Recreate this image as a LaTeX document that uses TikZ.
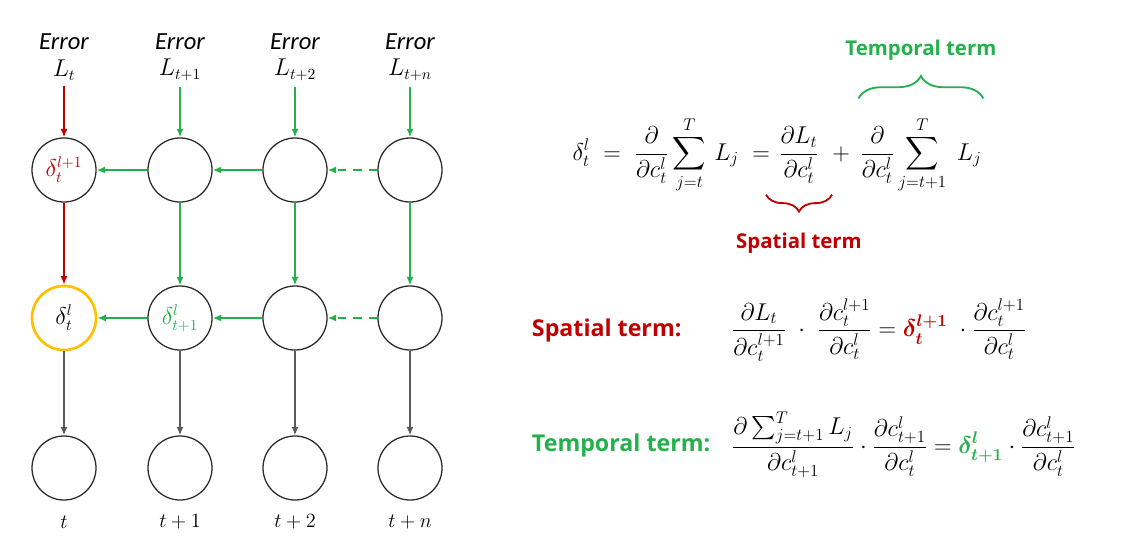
\documentclass[tikz,border=0pt]{standalone}
\usepackage{amsmath,amsfonts}
\usepackage{fontspec}
\usetikzlibrary{arrows.meta,positioning,decorations.pathreplacing}
\newfontfamily\errfont{Carlito Italic}
\newfontfamily\termfont{Open Sans Bold}
\definecolor{spat}{RGB}{192,0,0}
\definecolor{temp}{RGB}{34,177,76}
\definecolor{ring}{RGB}{255,192,0}
\definecolor{rim}{RGB}{40,40,40}
\definecolor{down}{RGB}{89,89,89}

\begin{document}
\begin{tikzpicture}[x=0.025cm,y=-0.025cm,
	cell/.style={circle,draw=rim,line width=0.9pt,minimum size=1.6cm,inner sep=0pt,font=\fontsize{16}{18}\selectfont},
	errlab/.style={align=center,inner sep=1pt,font=\fontsize{16}{19}\selectfont},
	timelab/.style={font=\fontsize{15}{17}\selectfont},
	flow/.style={line width=1.5pt,-{Latex[length=6pt,width=5pt]}},
	spatarrow/.style={flow,spat},
	temparrow/.style={flow,temp},
	downarrow/.style={flow,down},
	eqn/.style={inner sep=1pt,font=\fontsize{16.5}{19}\selectfont},
	bigterm/.style={font=\termfont\fontsize{16.5}{19}\selectfont},
	smallterm/.style={font=\termfont\fontsize{14.5}{17}\selectfont},
	curly/.style={line width=1.3pt,decorate,decoration={brace,amplitude=#1}}]
\useasboundingbox (0,0) rectangle (1128,552);
% grid of cells
\foreach \i/\x/\ut/\mt/\mc/\mw in {1/64/{\color{spat}$\delta_t^{l+1}$}/{$\delta_t^l$}/ring/1.9pt,2/180/{}/{\color{temp}$\delta_{t+1}^l$}/rim/0.9pt,3/295/{}/{}/rim/0.9pt,4/410/{}/{}/rim/0.9pt}
{
	\node[cell] (u\i) at (\x,170) {\ut};
	\node[cell,draw=\mc,line width=\mw] (m\i) at (\x,318) {\mt};
	\node[cell] (b\i) at (\x,468) {};
}
\foreach \i/\x/\s in {1/64/t,2/180/t+1,3/295/t+2,4/410/t+n}
{
	\node[errlab] (e\i) at (\x,57) {{\errfont\fontsize{17.5}{19}\selectfont Error}\\$L_{\s}$};
	\node[timelab] (t\i) at (\x,522) {$\s$};
	\draw[downarrow] (m\i) -- (b\i);
}
% error flows
\draw[spatarrow,shorten <=3pt] (e1) -- (u1);
\draw[spatarrow] (u1) -- (m1);
\foreach \i in {2,3,4}
{
	\draw[temparrow,shorten <=3pt] (e\i) -- (u\i);
	\draw[temparrow] (u\i) -- (m\i);
}
\foreach \i/\j in {2/1,3/2}
{
	\draw[temparrow] (u\i) -- (u\j);
	\draw[temparrow] (m\i) -- (m\j);
}
\draw[temparrow,dash pattern=on 6pt off 5pt] (u4) -- (u3);
\draw[temparrow,dash pattern=on 6pt off 5pt] (m4) -- (m3);
% main equation
\node[eqn] (spt) at (799,155) {$\displaystyle\frac{\partial L_t}{\partial c_t^l}$};
\node[eqn,base left=4pt of spt] (lhs) {$\displaystyle\delta_t^l \;=\; \frac{\partial}{\partial c_t^l}\sum_{j=t}^{T}\, L_j \;=$};
\node[eqn,base right=7pt of spt] (plus) {$+$};
\node[eqn,base right=5pt of plus] (tmp) {$\displaystyle\frac{\partial}{\partial c_t^l}\sum_{j=t+1}^{T}\; L_j$};
\draw[curly=16pt,temp] ([yshift=12pt]tmp.north west) -- node[smallterm,above=23pt,temp] (tlab) {Temporal term} ([yshift=12pt]tmp.north east);
\draw[curly=12pt,spat] ([xshift=8pt,yshift=-7pt]spt.south east) -- node[smallterm,below=23pt,spat] (slab) {Spatial term} ([xshift=-8pt,yshift=-7pt]spt.south west);
% spatial term
\node[bigterm,spat,anchor=west] (sname) at (527,330) {Spatial term:};
\node[eqn,anchor=west] (seq) at (730,330) {$\displaystyle\frac{\partial L_t}{\partial c_t^{l+1}}\;\cdot\;\frac{\partial c_t^{l+1}}{\partial c_t^l} = {\color{spat}\boldsymbol{\delta_t^{l+1}}}\;\cdot\frac{\partial c_t^{l+1}}{\partial c_t^l}$};
% temporal term
\node[bigterm,temp,anchor=west] (tname) at (527,445) {Temporal term:};
\node[eqn,anchor=west] (teq) at (730,445) {$\displaystyle\frac{\partial\sum_{j=t+1}^{T}L_j}{\partial c_{t+1}^l}\cdot\frac{\partial c_{t+1}^l}{\partial c_t^l} = {\color{temp}\boldsymbol{\delta_{t+1}^l}}\cdot\frac{\partial c_{t+1}^l}{\partial c_t^l}$};
\end{tikzpicture}
\end{document}
